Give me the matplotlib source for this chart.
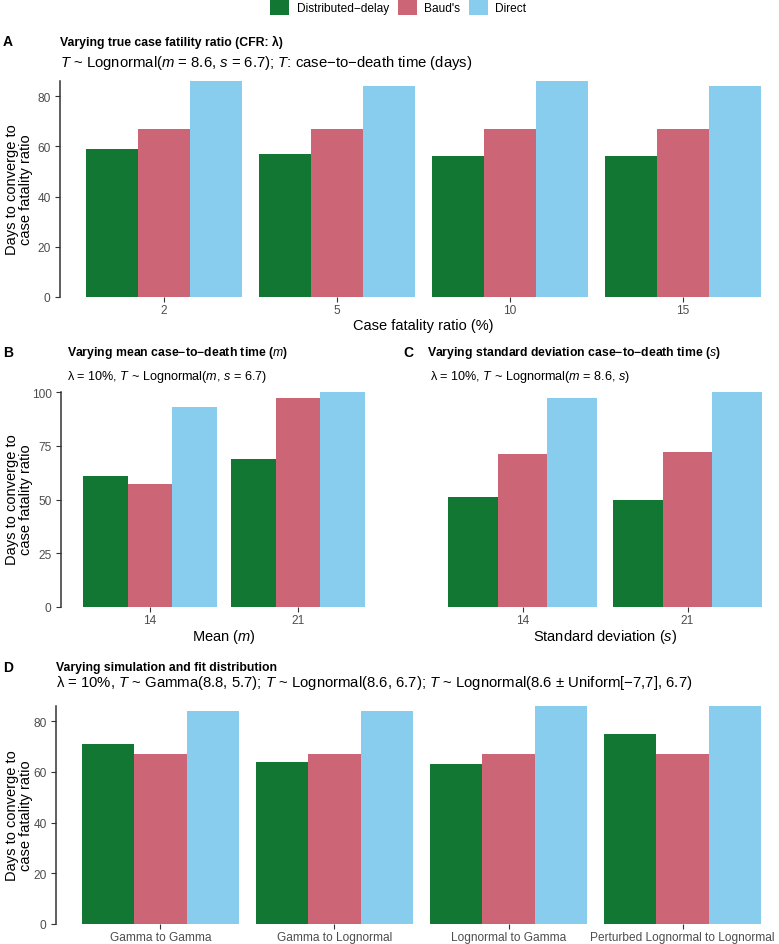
import matplotlib
matplotlib.use("Agg")
import matplotlib.pyplot as plt
from matplotlib.patches import Patch
import numpy as np

plt.rcParams['font.family'] = ['Liberation Sans', 'DejaVu Sans']
plt.rcParams['mathtext.fontset'] = 'custom'
plt.rcParams['mathtext.rm'] = 'Liberation Sans'
plt.rcParams['mathtext.it'] = 'Liberation Sans:italic'
plt.rcParams['mathtext.bf'] = 'Liberation Sans:bold'

# ---------------- data ----------------
series = ["Distributed\u2212delay", "Baud's", "Direct"]
colors = ["#117733", "#CC6677", "#88CCEE"]

cfr_labels = ["2", "5", "10", "15"]
cfr_dd = [59, 57, 56, 56]
cfr_baud = [67, 67, 67, 67]
cfr_direct = [86, 84, 86, 84]

mean_labels = ["14", "21"]
mean_dd = [61, 69]
mean_baud = [57, 97]
mean_direct = [93, 100]

sd_labels = ["14", "21"]
sd_dd = [51, 50]
sd_baud = [71, 72]
sd_direct = [97, 100]

dist_labels = ["Gamma to Gamma", "Gamma to Lognormal", "Lognormal to Gamma",
               "Perturbed Lognormal to Lognormal"]
dist_dd = [71, 64, 63, 75]
dist_baud = [67, 67, 67, 67]
dist_direct = [84, 84, 86, 86]

# ---------------- layout ----------------
W, H = 779, 945
fig = plt.figure(figsize=(W / 100, H / 100), dpi=100)

TICK_C = "#4D4D4D"
AX_C = "#333333"
MINUS = "\u2212"
LAM = "\u03bb"


def add_ax(left, top, right, bottom):
    return fig.add_axes([left / W, 1 - bottom / H, (right - left) / W, (bottom - top) / H])


def ftext(x, y, s, **kw):
    fig.text(x / W, 1 - y / H, s, **kw)


def draw_panel(ax, labels, vals, ymax, yticks, show_y=True):
    n = len(labels)
    x = np.arange(1, n + 1)
    w = 0.3
    for i, (v, c) in enumerate(zip(vals, colors)):
        ax.bar(x + (i - 1) * w, v, width=w, color=c, linewidth=0)
    ax.set_xlim(0.4, n + 0.6)
    ax.set_ylim(0, ymax)
    ax.set_xticks(x)
    ax.set_xticklabels(labels)
    for s in ['top', 'right', 'bottom']:
        ax.spines[s].set_visible(False)
    ax.tick_params(axis='x', length=3.3, width=0.8, color=AX_C, labelsize=8.6,
                   labelcolor=TICK_C, pad=2)
    if show_y:
        ax.spines['left'].set_color(AX_C)
        ax.spines['left'].set_linewidth(1.1)
        ax.set_yticks(yticks)
        ax.tick_params(axis='y', length=3.3, width=0.8, color=AX_C, labelsize=8.6,
                       labelcolor=TICK_C, pad=3.5)
    else:
        ax.spines['left'].set_visible(False)
        ax.set_yticks([])


ylab = "Days to converge to\ncase fatality ratio"

# Panel A
axA = add_ax(60, 82, 787, 298)
draw_panel(axA, cfr_labels, [cfr_dd, cfr_baud, cfr_direct], 86, [0, 20, 40, 60, 80])
ftext(3, 42, "A", fontsize=10, fontweight='bold', va='center', ha='left')
ftext(60, 42, "Varying true case fatility ratio (CFR: " + LAM + ")", fontsize=8.8,
      fontweight='bold', va='center', ha='left')
ftext(60, 63, "$T$ ~ Lognormal($m$ = 8.6, $s$ = 6.7); $T$: case" + MINUS + "to" + MINUS
      + "death time (days)", fontsize=10.75, va='center', ha='left')
ftext(423, 326, "Case fatality ratio (%)", fontsize=10.5, va='center', ha='center')
ftext(19, 190, ylab, fontsize=10.5, va='center', ha='center', rotation=90,
      linespacing=0.95, multialignment='center')

# Panel B
axB = add_ax(61, 393, 387, 608)
draw_panel(axB, mean_labels, [mean_dd, mean_baud, mean_direct], 100, [0, 25, 50, 75, 100])
ftext(3, 353, "B", fontsize=10, fontweight='bold', va='center', ha='left')
ftext(67, 353, "Varying mean case" + MINUS + "to" + MINUS + "death time ($m$)", fontsize=8.8,
      fontweight='bold', va='center', ha='left')
ftext(67, 377, LAM + " = 10%, $T$ ~ Lognormal($m$, $s$ = 6.7)", fontsize=9.1,
      va='center', ha='left')
ftext(224, 637, "Mean ($m$)", fontsize=10.5, va='center', ha='center')
ftext(19, 500, ylab, fontsize=10.5, va='center', ha='center', rotation=90,
      linespacing=0.95, multialignment='center')

# Panel C
axC = add_ax(423.5, 393, 786.5, 608)
draw_panel(axC, sd_labels, [sd_dd, sd_baud, sd_direct], 100, [], show_y=False)
ftext(403, 353, "C", fontsize=10, fontweight='bold', va='center', ha='left')
ftext(427, 353, "Varying standard deviation case" + MINUS + "to" + MINUS + "death time ($s$)",
      fontsize=8.8, fontweight='bold', va='center', ha='left')
ftext(430, 377, LAM + " = 10%, $T$ ~ Lognormal($m$ = 8.6, $s$)", fontsize=9.1,
      va='center', ha='left')
ftext(605, 637, "Standard deviation ($s$)", fontsize=10.5, va='center', ha='center')

# Panel D
axD = add_ax(56, 707, 787, 925)
draw_panel(axD, dist_labels, [dist_dd, dist_baud, dist_direct], 86, [0, 20, 40, 60, 80])
ftext(3, 668, "D", fontsize=10, fontweight='bold', va='center', ha='left')
ftext(56, 668, "Varying simulation and fit distribution", fontsize=8.8,
      fontweight='bold', va='center', ha='left')
ftext(56, 683, LAM + " = 10%, $T$ ~ Gamma(8.8, 5.7); $T$ ~ Lognormal(8.6, 6.7); "
      "$T$ ~ Lognormal(8.6 \u00b1 Uniform[" + MINUS + "7,7], 6.7)",
      fontsize=10.7, va='center', ha='left')
ftext(19, 816, ylab, fontsize=10.5, va='center', ha='center', rotation=90,
      linespacing=0.95, multialignment='center')

# Legend
handles = [Patch(facecolor=c, edgecolor='none') for c in colors]
fig.legend(handles, series, ncol=3, loc='upper center', bbox_to_anchor=(398.5 / W, 1.0),
           frameon=False, fontsize=8.6, handlelength=1.6, handleheight=1.65,
           handletextpad=0.65, columnspacing=0.68, borderpad=0, borderaxespad=0)

fig.savefig("out.png", dpi=100)
